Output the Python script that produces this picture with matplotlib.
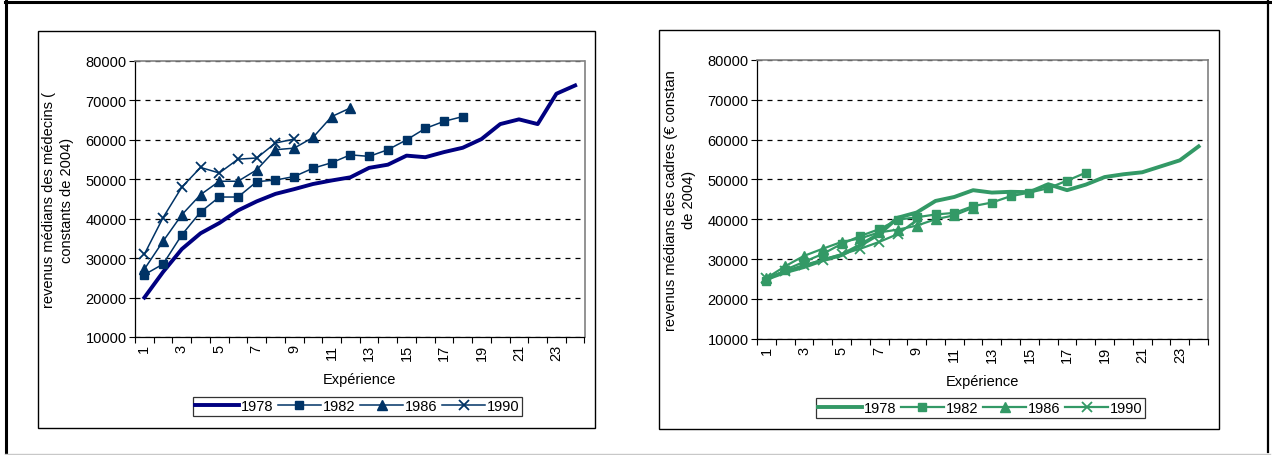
import matplotlib
matplotlib.use("Agg")
import matplotlib.pyplot as plt
from matplotlib.lines import Line2D
from matplotlib.patches import Rectangle
import numpy as np

plt.rcParams['font.family'] = ['Liberation Sans', 'DejaVu Sans']

# data
experience = list(range(1, 25))
years = ['1978', '1982', '1986', '1990']

# médecins
med_1978 = [20000, 26500, 32300, 36300, 38900, 42100, 44400, 46300, 47500, 48800, 49700, 50500,
            52900, 53700, 56000, 55600, 56900, 58000, 60200, 64000, 65200, 64000, 71700, 73800]
med_1982 = [25800, 28500, 35900, 41700, 45500, 45500, 49400, 49800, 50700, 52800, 54200, 56200,
            55800, 57500, 60000, 62900, 64700, 65900]
med_1986 = [27200, 34300, 41000, 46100, 49500, 49500, 52400, 57500, 57900, 60600, 65900, 68100]
med_1990 = [31000, 40300, 48000, 53000, 51600, 55100, 55400, 59200, 60200]

# cadres
cad_1978 = [25000, 26700, 28000, 29700, 31000, 33500, 36300, 40400, 41700, 44600, 45600, 47300,
            46700, 46900, 46800, 48800, 47300, 48700, 50600, 51300, 51800, 53300, 54800, 58300]
cad_1982 = [24500, 27300, 29300, 31300, 33800, 35800, 37500, 39900, 40500, 41200, 41600, 43300,
            44200, 45800, 46700, 47800, 49700, 51700]
cad_1986 = [25200, 28200, 30800, 32600, 34300, 35200, 36700, 37400, 38400, 40000, 41000, 42900]
cad_1990 = [25200, 27000, 28500, 29800, 31200, 32600, 34300, 36300, 39800]

y_ticks = [10000, 20000, 30000, 40000, 50000, 60000, 70000, 80000]

W, H = 1272, 456
fig = plt.figure(figsize=(W / 100, H / 100), dpi=100)


def box(x0, y0, x1, y1, lw=1.0, color='black'):
    # rectangle given in pixel coords from top-left
    fig.patches.append(Rectangle((x0 / W, 1 - y1 / H), (x1 - x0) / W, (y1 - y0) / H,
                                 transform=fig.transFigure, fill=False, lw=lw,
                                 edgecolor=color, zorder=0))


def hline(x0, x1, y, lw, color):
    fig.add_artist(Line2D([x0 / W, x1 / W], [1 - y / H, 1 - y / H], lw=lw, color=color,
                          transform=fig.transFigure))


def vline(x, y0, y1, lw, color):
    fig.add_artist(Line2D([x / W, x / W], [1 - y0 / H, 1 - y1 / H], lw=lw, color=color,
                          transform=fig.transFigure))


# outer frame
hline(5, 1270, 3, 2.2, 'black')
vline(6, 2, 455, 2.2, 'black')
vline(1268, 2, 453, 1.6, 'black')
hline(5, 1270, 454.5, 1.0, '#c8c8c8')

# chart boxes
box(37.5, 32, 595, 429, lw=1.0)
box(659, 31, 1219, 430, lw=1.0)


def make_chart(rect, series, color, color78, lw, ylabel, ylabel_x, legend_xy):
    ax = fig.add_axes(rect)
    s78, s82, s86, s90 = series
    ax.plot(experience[:len(s78)], s78, color=color78, lw=2.8, label='1978',
            solid_joinstyle='round')
    ax.plot(experience[:len(s82)], s82, color=color, lw=lw, marker='s', ms=6, label='1982')
    ax.plot(experience[:len(s86)], s86, color=color, lw=lw, marker='^', ms=7, label='1986')
    ax.plot(experience[:len(s90)], s90, color=color, lw=lw, marker='x', ms=7, mew=1.3,
            label='1990')

    ax.set_xlim(0.5, 24.5)
    ax.set_ylim(10000, 80000)
    ax.set_yticks(y_ticks)
    ax.set_yticklabels([str(v) for v in y_ticks], fontsize=10.5)
    ax.tick_params(axis='y', length=4, width=0.8, direction='out', pad=2)
    ax.yaxis.grid(True, linestyle=(0, (4, 4)), color='black', lw=0.9)
    ax.set_axisbelow(True)

    # ticks between categories, labels on odd categories
    ax.set_xticks(np.arange(0.5, 25, 1))
    ax.set_xticklabels([])
    ax.tick_params(axis='x', which='major', length=4, width=0.8, direction='out')
    ax.set_xticks(experience[::2], minor=True)
    ax.set_xticklabels([str(v) for v in experience[::2]], minor=True, rotation=90,
                       fontsize=10.5)
    ax.tick_params(axis='x', which='minor', length=0, pad=5)

    for s in ['top', 'right']:
        ax.spines[s].set_color('#808080')
        ax.spines[s].set_linewidth(1.2)
    for s in ['left', 'bottom']:
        ax.spines[s].set_color('black')
        ax.spines[s].set_linewidth(0.9)

    ax.set_xlabel('Expérience', fontsize=10.5)
    ax.xaxis.set_label_coords(0.5, -0.152)
    ax.xaxis.label.set_va('center')

    fig.text(ylabel_x, 0.561, ylabel, rotation=90, ha='center', va='center',
             multialignment='center', fontsize=10.5, linespacing=1.3)

    leg = fig.legend(handles=ax.get_lines(), labels=years, loc='center',
                     bbox_to_anchor=legend_xy, ncol=4, fontsize=10.5, frameon=True,
                     fancybox=False, edgecolor='black', handlelength=3.0,
                     handletextpad=0.1, columnspacing=0.3, borderpad=0.2,
                     borderaxespad=0)
    leg.get_frame().set_linewidth(0.9)
    return ax


make_chart([135 / W, 1 - 338 / H, 449.5 / W, 276 / H],
           [med_1978, med_1982, med_1986, med_1990], '#003366', '#000080', 1.1,
           'revenus médians des médecins (\nconstants de 2004)', 58 / W,
           (357.5 / W, 1 - 407.5 / H))

make_chart([757 / W, 1 - 339.7 / H, 451 / W, 278.7 / H],
           [cad_1978, cad_1982, cad_1986, cad_1990], '#339966', '#339966', 1.6,
           'revenus médians des cadres (€ constan\nde 2004)', 680 / W,
           (980.5 / W, 1 - 409 / H))

fig.savefig('out.png', dpi=100)
